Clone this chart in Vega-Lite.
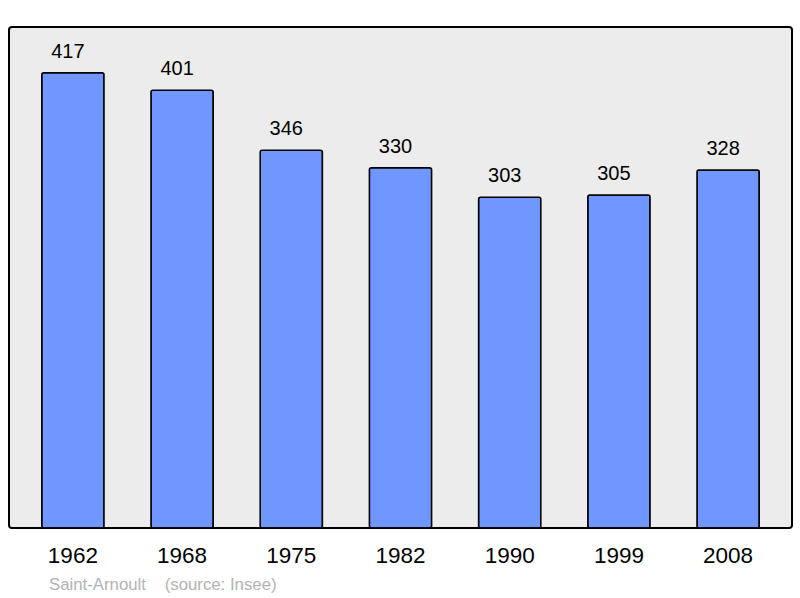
{
  "$schema": "https://vega.github.io/schema/vega-lite/v6.json",
  "autosize": {"type": "none"},
  "width": 783,
  "height": 501,
  "padding": {"left": 9, "top": 27, "right": 8, "bottom": 70},
  "background": "white",
  "config": {
    "font": "Liberation Sans",
    "view": {"fill": "#ececec", "stroke": "#000000", "strokeWidth": 2, "cornerRadius": 3}
  },
  "title": {
    "text": "Saint-Arnoult\u00a0\u00a0\u00a0\u00a0(source: Insee)",
    "orient": "bottom",
    "anchor": "start",
    "dx": 40,
    "offset": 10,
    "fontSize": 16.8,
    "fontWeight": "normal",
    "color": "#b3b3b3",
    "font": "Liberation Sans"
  },
  "data": {
    "values": [
      {"year": "1962", "pop": 417},
      {"year": "1968", "pop": 401},
      {"year": "1975", "pop": 346},
      {"year": "1982", "pop": 330},
      {"year": "1990", "pop": 303},
      {"year": "1999", "pop": 305},
      {"year": "2008", "pop": 328}
    ]
  },
  "encoding": {
    "x": {
      "field": "year",
      "type": "ordinal",
      "sort": null,
      "scale": {"paddingInner": 0.43, "paddingOuter": 0.3},
      "axis": {
        "title": null,
        "ticks": false,
        "domain": false,
        "grid": false,
        "labelAngle": 0,
        "labelFontSize": 22.5,
        "labelColor": "#000000",
        "labelPadding": 16,
        "labelFont": "Liberation Sans"
      }
    },
    "y": {
      "field": "pop",
      "type": "quantitative",
      "scale": {"domain": [0, 459], "nice": false, "zero": true},
      "axis": null
    }
  },
  "layer": [
    {
      "mark": {"type": "bar", "color": "#7096ff", "stroke": "#000000", "strokeWidth": 1.5, "cornerRadius": 2}
    },
    {
      "mark": {"type": "text", "baseline": "alphabetic", "dx": -5, "dy": -15, "fontSize": 20, "color": "#000000", "font": "Liberation Sans"},
      "encoding": {"text": {"field": "pop", "type": "quantitative"}}
    }
  ]
}
